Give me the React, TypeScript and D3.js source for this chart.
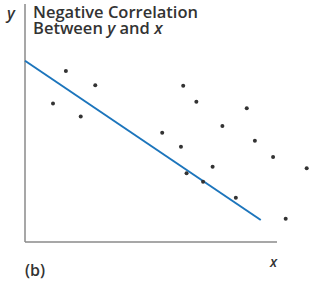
import React from 'react'
import * as d3 from 'd3'

// scatter points (arbitrary units)
const xs = [14.6, 25.1, 10, 19.9, 56.5, 61.2, 79.2, 49, 70.5, 55.7, 82.1, 88.6, 100.6, 67, 57.7, 63.6, 75.3, 93.1]
const ys = [77.7, 71.2, 63, 57.1, 71, 63.8, 60.8, 49.7, 52.7, 43.3, 46, 38.6, 33.5, 34.2, 31.2, 27.4, 20.1, 10.6]
// regression line end points
const lineX = [0, 84.2]
const lineY = [82.4, 10]
const titleLines = ['Negative Correlation', 'Between ']

const W = 309
const H = 284

export default function App() {
  const x = d3.scaleLinear().domain([0, 100]).range([25, 305])
  const y = d3.scaleLinear().domain([0, 100]).range([242, 22])
  const line = d3.line<number>().x(d => x(lineX[d])).y(d => y(lineY[d]))

  const font = "'Open Sans', 'Noto Sans', sans-serif"
  return (
    <svg width={W} height={H} style={{ position: 'absolute', left: 0, top: 0, background: '#fff' }}>
      <line x1={x(0)} x2={x(0)} y1={4} y2={y(0)} stroke="#8a8a8a" strokeWidth={1.5} />
      <line x1={x(0)} x2={277} y1={y(0)} y2={y(0)} stroke="#8a8a8a" strokeWidth={1.5} />
      <path d={line([0, 1]) || ''} fill="none" stroke="#1c75bc" strokeWidth={2} />
      {xs.map((v, i) => (
        <circle key={i} cx={x(v)} cy={y(ys[i])} r={2} fill="#333" />
      ))}
      <text x={7} y={19} fontFamily={font} fontStyle="italic" fontWeight={600} fontSize={16} fill="#333">y</text>
      <text x={33} y={18} fontFamily={font} fontWeight={600} fontSize={16.5} fill="#333">{titleLines[0]}</text>
      <text x={33} y={34} fontFamily={font} fontWeight={600} fontSize={16.5} fill="#333">
        {titleLines[1]}
        <tspan fontStyle="italic">y</tspan>
        {' and '}
        <tspan fontStyle="italic">x</tspan>
      </text>
      <text x={270} y={267} fontFamily={font} fontStyle="italic" fontWeight={600} fontSize={14} fill="#333">x</text>
      <text x={25} y={276} fontFamily={font} fontWeight={600} fontSize={16} fill="#333">(b)</text>
    </svg>
  )
}
